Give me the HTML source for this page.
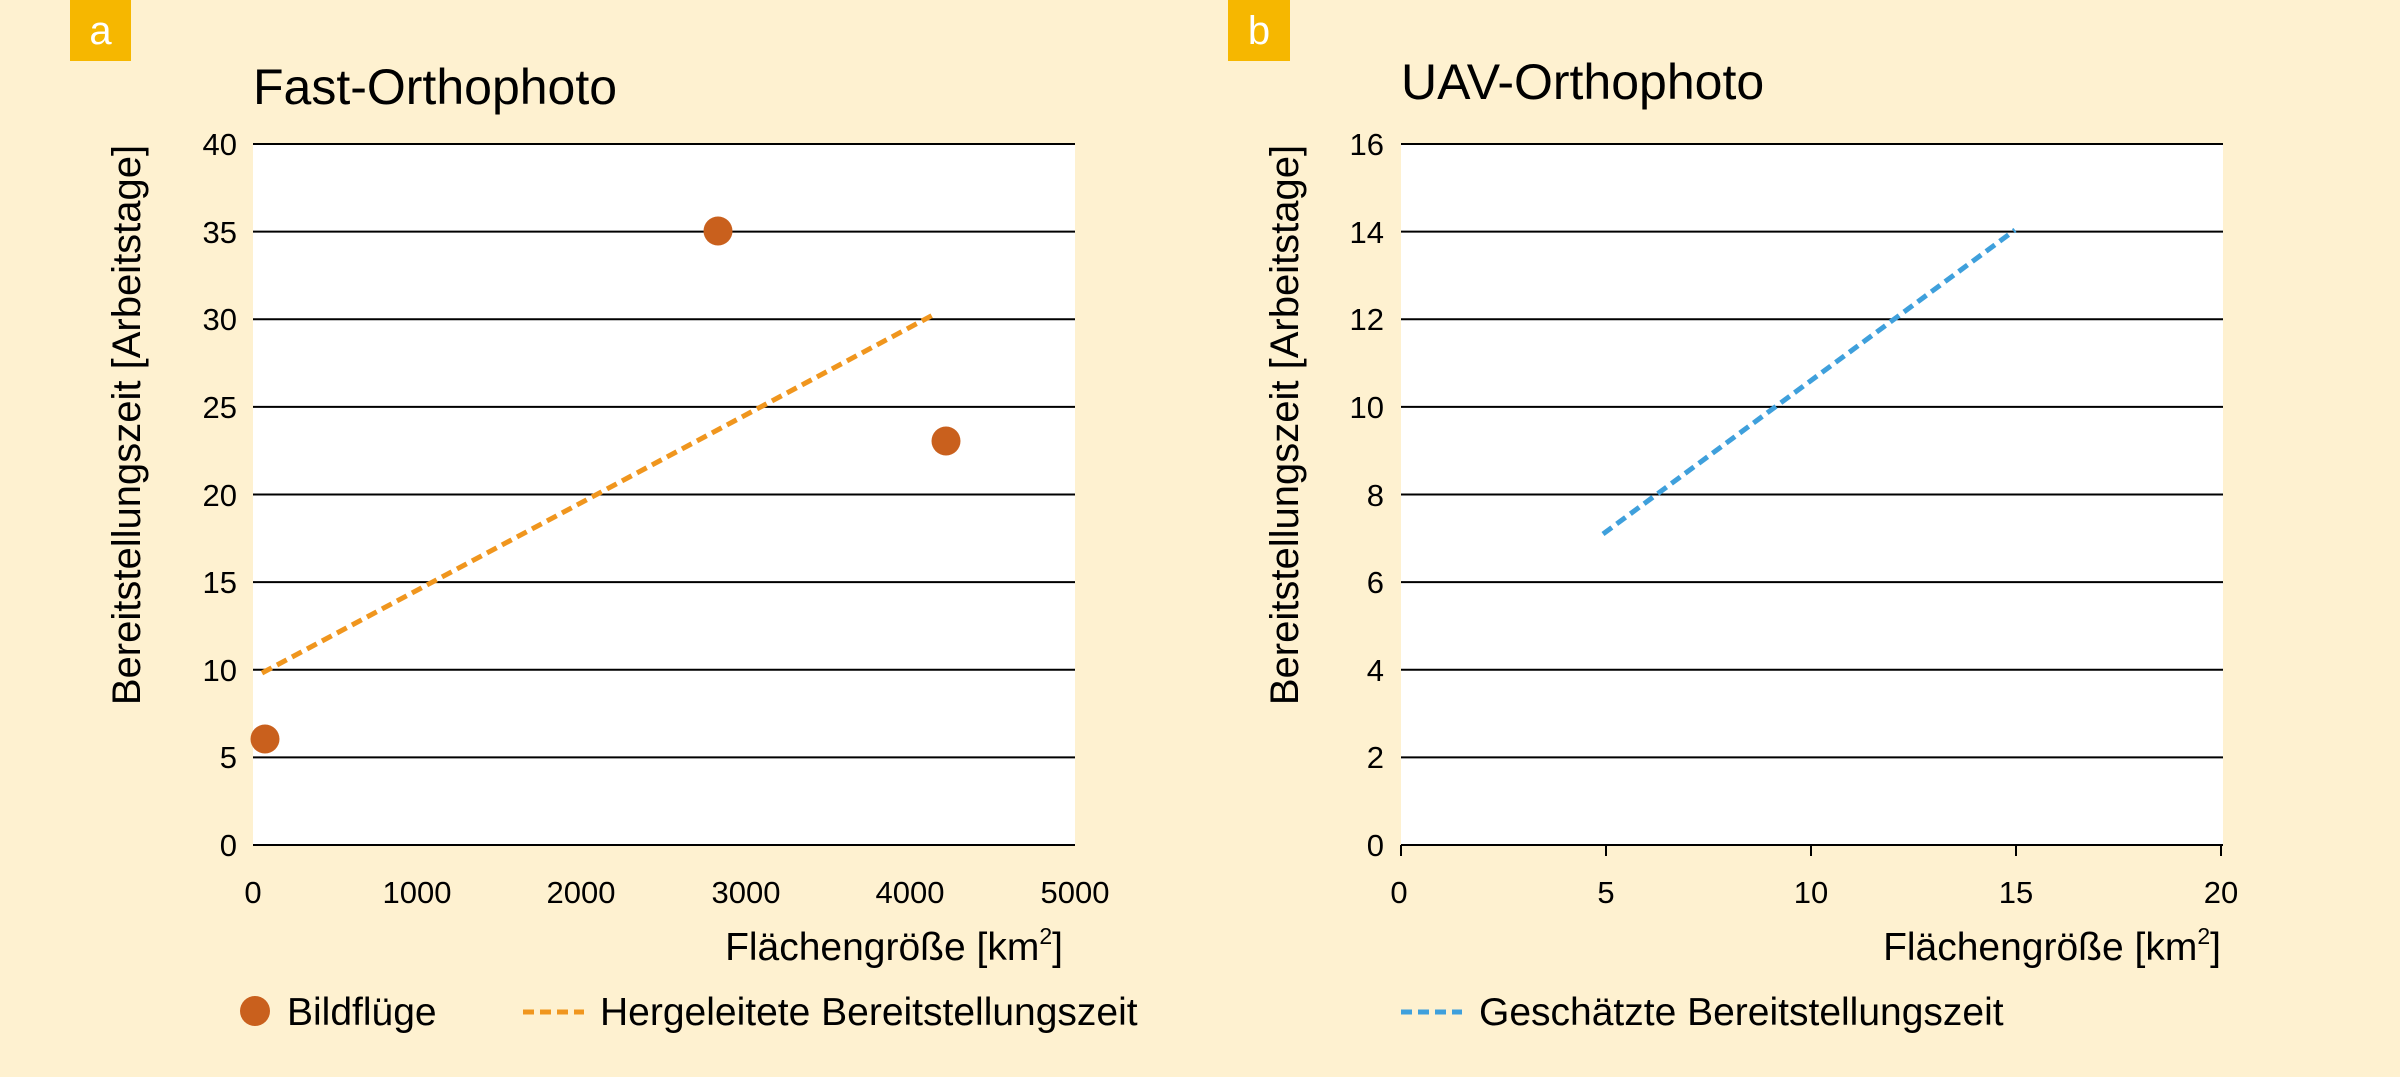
<!DOCTYPE html>
<html><head><meta charset="utf-8"><style>
html,body{margin:0;padding:0;background:#fef1d0;}
svg{display:block;font-family:"Liberation Sans",sans-serif;}
</style></head><body>
<svg width="2400" height="1077" viewBox="0 0 2400 1077" xmlns="http://www.w3.org/2000/svg">
<rect width="2400" height="1077" fill="#fef1d0"/>
<!-- Panel a -->
<rect x="70" y="0" width="61" height="61" fill="#f6b700"/>
<text x="100.5" y="44" font-size="40" fill="#fff" text-anchor="middle">a</text>
<text x="253" y="104" font-size="50" fill="#000">Fast-Orthophoto</text>
<rect x="253" y="144" width="822" height="701" fill="#fff"/>
<g stroke="#000" stroke-width="2">
<line x1="253" y1="144" x2="1075" y2="144"/><line x1="253" y1="231.6" x2="1075" y2="231.6"/>
<line x1="253" y1="319.3" x2="1075" y2="319.3"/><line x1="253" y1="406.9" x2="1075" y2="406.9"/>
<line x1="253" y1="494.5" x2="1075" y2="494.5"/><line x1="253" y1="582.1" x2="1075" y2="582.1"/>
<line x1="253" y1="669.8" x2="1075" y2="669.8"/><line x1="253" y1="757.4" x2="1075" y2="757.4"/>
<line x1="253" y1="845" x2="1075" y2="845"/>
</g>
<g font-size="31" fill="#000" text-anchor="end">
<text x="237" y="155">40</text><text x="237" y="243">35</text><text x="237" y="330">30</text>
<text x="237" y="418">25</text><text x="237" y="506">20</text><text x="237" y="593">15</text>
<text x="237" y="681">10</text><text x="237" y="768">5</text><text x="237" y="856">0</text>
</g>
<g font-size="31" fill="#000" text-anchor="middle">
<text x="253" y="903">0</text><text x="417" y="903">1000</text><text x="581" y="903">2000</text>
<text x="746" y="903">3000</text><text x="910" y="903">4000</text><text x="1075" y="903">5000</text>
</g>
<text x="1063" y="960" font-size="39" fill="#000" text-anchor="end">Flächengröße [km<tspan font-size="23" dy="-16">2</tspan><tspan dy="16">]</tspan></text>
<text transform="translate(140,425) rotate(-90)" font-size="40" fill="#000" text-anchor="middle">Bereitstellungszeit [Arbeitstage]</text>
<line x1="262" y1="673" x2="933" y2="315" stroke="#f0961e" stroke-width="5" stroke-dasharray="11,6"/>
<g fill="#c9601d">
<circle cx="718" cy="231" r="14.5"/><circle cx="946" cy="441" r="14.5"/><circle cx="265" cy="739" r="14.5"/>
<circle cx="255" cy="1011" r="15"/>
</g>
<text x="287" y="1025" font-size="39" fill="#000">Bildflüge</text>
<line x1="523" y1="1012" x2="584" y2="1012" stroke="#f0961e" stroke-width="5" stroke-dasharray="11,6"/>
<text x="600" y="1025" font-size="39" fill="#000">Hergeleitete Bereitstellungszeit</text>
<!-- Panel b -->
<rect x="1228" y="0" width="62" height="61" fill="#f6b700"/>
<text x="1259" y="44" font-size="40" fill="#fff" text-anchor="middle">b</text>
<text x="1401" y="99" font-size="50" fill="#000">UAV-Orthophoto</text>
<rect x="1401" y="144" width="822" height="701" fill="#fff"/>
<g stroke="#000" stroke-width="2">
<line x1="1401" y1="144" x2="2223" y2="144"/><line x1="1401" y1="231.6" x2="2223" y2="231.6"/>
<line x1="1401" y1="319.3" x2="2223" y2="319.3"/><line x1="1401" y1="406.9" x2="2223" y2="406.9"/>
<line x1="1401" y1="494.5" x2="2223" y2="494.5"/><line x1="1401" y1="582.1" x2="2223" y2="582.1"/>
<line x1="1401" y1="669.8" x2="2223" y2="669.8"/><line x1="1401" y1="757.4" x2="2223" y2="757.4"/>
<line x1="1401" y1="845" x2="2223" y2="845"/>
<line x1="1401" y1="845" x2="1401" y2="856"/><line x1="1606" y1="845" x2="1606" y2="856"/>
<line x1="1811" y1="845" x2="1811" y2="856"/><line x1="2016" y1="845" x2="2016" y2="856"/>
<line x1="2221" y1="845" x2="2221" y2="856"/>
</g>
<g font-size="31" fill="#000" text-anchor="end">
<text x="1384" y="155">16</text><text x="1384" y="243">14</text><text x="1384" y="330">12</text>
<text x="1384" y="418">10</text><text x="1384" y="506">8</text><text x="1384" y="593">6</text>
<text x="1384" y="681">4</text><text x="1384" y="768">2</text><text x="1384" y="856">0</text>
</g>
<g font-size="31" fill="#000" text-anchor="middle">
<text x="1399" y="903">0</text><text x="1606" y="903">5</text><text x="1811" y="903">10</text>
<text x="2016" y="903">15</text><text x="2221" y="903">20</text>
</g>
<text x="2221" y="960" font-size="39" fill="#000" text-anchor="end">Flächengröße [km<tspan font-size="23" dy="-16">2</tspan><tspan dy="16">]</tspan></text>
<text transform="translate(1298,425) rotate(-90)" font-size="40" fill="#000" text-anchor="middle">Bereitstellungszeit [Arbeitstage]</text>
<line x1="1603" y1="534" x2="2015" y2="230" stroke="#3fa0dc" stroke-width="5" stroke-dasharray="11,6"/>
<line x1="1401" y1="1012" x2="1462" y2="1012" stroke="#3fa0dc" stroke-width="5" stroke-dasharray="11,6"/>
<text x="1479" y="1025" font-size="39" fill="#000">Geschätzte Bereitstellungszeit</text>
</svg>
</body></html>
